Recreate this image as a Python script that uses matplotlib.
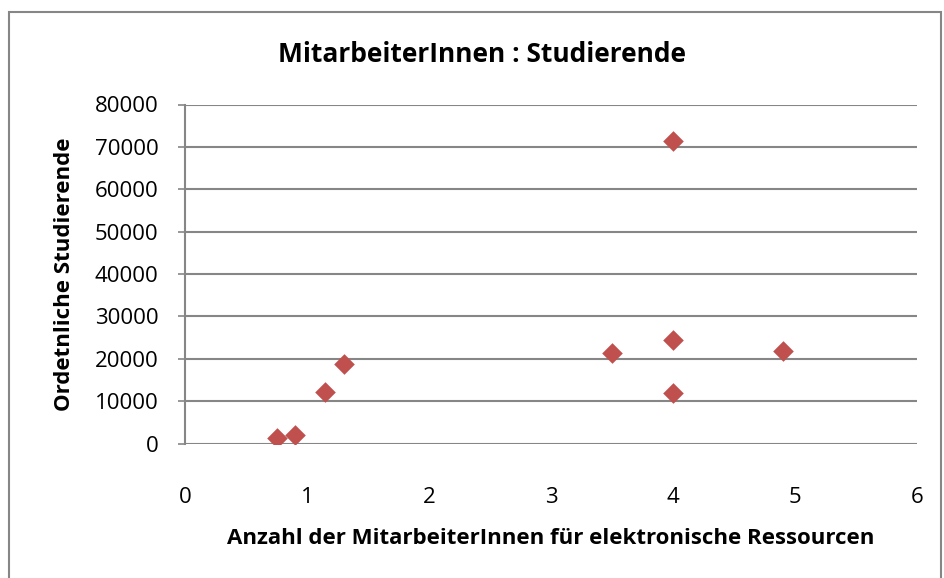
import matplotlib
matplotlib.use("Agg")
import matplotlib.pyplot as plt
from matplotlib.patches import Rectangle

# data
mitarbeiter = [0.75, 0.9, 1.15, 1.3, 3.5, 4.0, 4.0, 4.0, 4.9]
studierende = [1300, 2100, 12100, 18700, 21300, 71300, 24400, 11800, 21800]

x_ticks = [0, 1, 2, 3, 4, 5, 6]
y_ticks = [0, 10000, 20000, 30000, 40000, 50000, 60000, 70000, 80000]

title = "MitarbeiterInnen : Studierende"
x_label = "Anzahl der MitarbeiterInnen für elektronische Ressourcen"
y_label = "Ordetnliche Studierende"

plt.rcParams["font.family"] = ["Open Sans", "DejaVu Sans"]

W, H = 944, 578
fig = plt.figure(figsize=(W / 100, H / 100), dpi=100)
fig.patch.set_facecolor("white")

ax = fig.add_axes([185 / W, 1 - 443.5 / H, (917 - 185) / W, (443.5 - 104.5) / H])

grid_col = "#868686"
ax.scatter(mitarbeiter, studierende, marker="D", s=10.5**2, color="#C0504D",
           linewidths=0, zorder=3)

ax.set_xlim(0, 6)
ax.set_ylim(0, 80000)
ax.set_xticks(x_ticks)
ax.set_yticks(y_ticks)
ax.set_xticklabels([str(v) for v in x_ticks])
ax.set_yticklabels([str(v) for v in y_ticks])

ax.yaxis.grid(True, color=grid_col, linewidth=1.5)
ax.set_axisbelow(True)
for side in ["top", "right", "bottom"]:
    ax.spines[side].set_visible(False)
ax.spines["left"].set_color(grid_col)
ax.spines["left"].set_linewidth(1.5)

ax.tick_params(axis="y", length=5, width=1.2, color=grid_col, pad=14, labelsize=16)
ax.tick_params(axis="x", length=0, pad=31, labelsize=16)

ax.set_xlabel(x_label, fontsize=16, fontweight="bold", labelpad=15)
ax.set_ylabel(y_label, fontsize=16, fontweight="bold", labelpad=14)
fig.text(482 / W, 1 - 55 / H, title, fontsize=19, fontweight="bold",
         ha="center", va="center")

fig.patches.append(Rectangle((9 / W, -0.05), (941 - 9) / W, 1.05 - 12 / H,
                             transform=fig.transFigure, fill=False,
                             edgecolor=grid_col, linewidth=1.5))

fig.savefig("out.png", dpi=100)
